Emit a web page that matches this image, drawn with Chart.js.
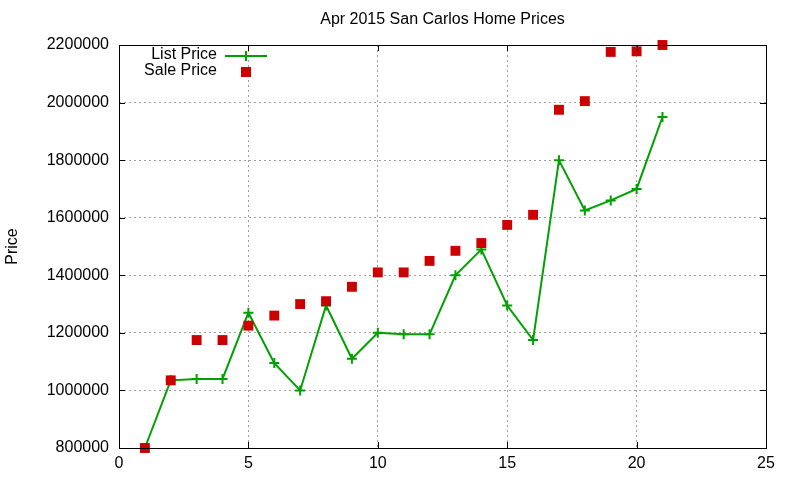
<!DOCTYPE html>
<html>
<head>
<meta charset="utf-8">
<title>Apr 2015 San Carlos Home Prices</title>
<script src="https://cdn.jsdelivr.net/npm/chart.js@4.4.0/dist/chart.umd.min.js"></script>
<style>
  html, body { margin: 0; padding: 0; background: #fff; }
  #wrap { width: 800px; height: 480px; }
</style>
</head>
<body>
<div id="wrap"><canvas id="prices"></canvas></div>
<script>

// data
var homeIndex = [1, 2, 3, 4, 5, 6, 7, 8, 9, 10, 11, 12, 13, 14, 15, 16, 17, 18, 19, 20, 21];
var listPrice = [800000, 1035000, 1040000, 1040000, 1270000, 1095000, 1000000, 1295000, 1110000, 1200000,
                 1195000, 1195000, 1400000, 1490000, 1295000, 1175000, 1800000, 1625000, 1660000, 1700000, 1950000];
var salePrice = [800000, 1035000, 1175000, 1175000, 1225000, 1260000, 1300000, 1310000, 1360000, 1410000,
                 1410000, 1450000, 1485000, 1512000, 1575000, 1610000, 1975000, 2005000, 2176000, 2178000, 2200000];
var xTicks = [0, 5, 10, 15, 20, 25];
var yTicks = [800000, 1000000, 1200000, 1400000, 1600000, 1800000, 2000000, 2200000];

var GREEN = '#00a000';
var RED = '#cc0000';
var FONT = 'Liberation Sans, Arial, sans-serif';
var FONT_SIZE = 16;

function toPoints(xs, ys) {
  return xs.map(function (x, i) { return { x: x, y: ys[i] }; });
}

//
// gnuplot style frame: border box, inward ticks, title, y label and key
//
var gnuplotFrame = {
  id: 'gnuplotFrame',
  afterDraw: function (chart) {
    var ctx = chart.ctx;
    var a = chart.chartArea;
    var xs = chart.scales.x, ys = chart.scales.y;

    ctx.save();
    ctx.strokeStyle = '#000';
    ctx.lineWidth = 1;
    ctx.strokeRect(a.left + 0.5, a.top + 0.5, a.right - a.left, a.bottom - a.top);

    // inner ticks on all four sides
    ctx.beginPath();
    xTicks.forEach(function (v) {
      var px = Math.round(xs.getPixelForValue(v)) + 0.5;
      ctx.moveTo(px, a.bottom); ctx.lineTo(px, a.bottom - 6);
      ctx.moveTo(px, a.top); ctx.lineTo(px, a.top + 6);
    });
    yTicks.forEach(function (v) {
      var py = Math.round(ys.getPixelForValue(v)) + 0.5;
      ctx.moveTo(a.left, py); ctx.lineTo(a.left + 6, py);
      ctx.moveTo(a.right, py); ctx.lineTo(a.right - 6, py);
    });
    ctx.stroke();

    // title
    ctx.fillStyle = '#000';
    ctx.font = FONT_SIZE + 'px ' + FONT;
    ctx.textAlign = 'center';
    ctx.textBaseline = 'middle';
    ctx.fillText('Apr 2015 San Carlos Home Prices', (a.left + a.right) / 2, 20);

    // y axis label
    ctx.save();
    ctx.translate(13, (a.top + a.bottom) / 2);
    ctx.rotate(-Math.PI / 2);
    ctx.fillText('Price', 0, 0);
    ctx.restore();

    // key
    ctx.textAlign = 'right';
    ctx.fillText('List Price', 217, 55);
    ctx.fillText('Sale Price', 217, 71);

    ctx.strokeStyle = GREEN;
    ctx.lineWidth = 2;
    ctx.beginPath();
    ctx.moveTo(225, 56); ctx.lineTo(267, 56);
    ctx.moveTo(246, 51); ctx.lineTo(246, 61);
    ctx.stroke();

    ctx.fillStyle = RED;
    ctx.fillRect(241, 67, 10, 10);
    ctx.restore();
  }
};

var ctx = document.getElementById('prices').getContext('2d');

new Chart(ctx, {
  type: 'scatter',
  data: {
    datasets: [
      {
        label: 'List Price',
        data: toPoints(homeIndex, listPrice),
        showLine: true,
        clip: false,
        borderColor: GREEN,
        borderWidth: 2,
        pointStyle: 'cross',
        pointRadius: 5,
        pointBorderColor: GREEN,
        pointBorderWidth: 2,
        pointHoverRadius: 5,
        order: 2
      },
      {
        label: 'Sale Price',
        data: toPoints(homeIndex, salePrice),
        showLine: false,
        clip: false,
        pointStyle: 'rect',
        pointRadius: 7,
        pointBorderWidth: 0,
        pointBackgroundColor: RED,
        backgroundColor: RED,
        pointHoverRadius: 7,
        order: 1
      }
    ]
  },
  options: {
    responsive: true,
    maintainAspectRatio: false,
    animation: false,
    events: [],
    layout: { padding: { left: 9, right: 34, top: 45, bottom: 0 } },
    plugins: {
      legend: { display: false },
      title: { display: false },
      tooltip: { enabled: false }
    },
    scales: {
      x: {
        type: 'linear',
        min: 0,
        max: 25,
        afterBuildTicks: function (scale) {
          scale.ticks = xTicks.map(function (v) { return { value: v }; });
        },
        afterFit: function (scale) { scale.height = 32; },
        grid: { color: '#a0a0a0', lineWidth: 1, drawTicks: false },
        border: { display: false, dash: [2, 3] },
        ticks: {
          padding: 6,
          color: '#000',
          font: { family: FONT, size: FONT_SIZE },
          maxRotation: 0,
          callback: function (v) { return String(v); }
        }
      },
      y: {
        type: 'linear',
        min: 800000,
        max: 2200000,
        afterBuildTicks: function (scale) {
          scale.ticks = yTicks.map(function (v) { return { value: v }; });
        },
        afterFit: function (scale) { scale.width = 110; },
        grid: { color: '#a0a0a0', lineWidth: 1, drawTicks: false },
        border: { display: false, dash: [2, 3] },
        ticks: {
          padding: 10,
          color: '#000',
          font: { family: FONT, size: FONT_SIZE },
          callback: function (v) { return String(v); }
        }
      }
    }
  },
  plugins: [gnuplotFrame]
});
</script>
</body>
</html>
